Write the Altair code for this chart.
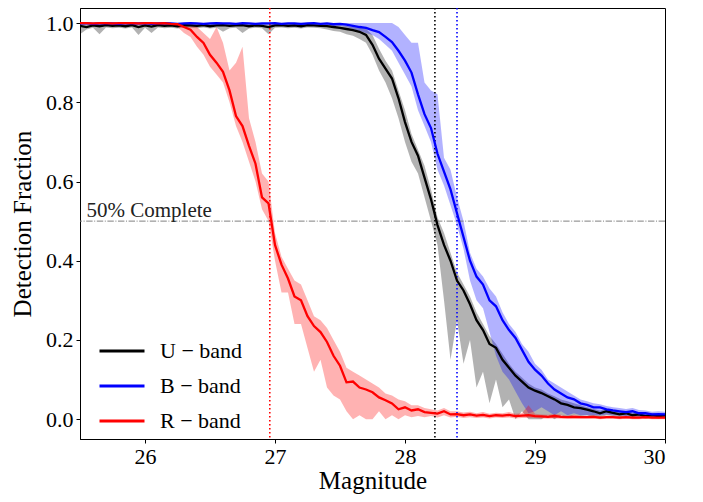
import altair as alt
import numpy as np
import pandas as pd

# Magnitude grid (bin centres)
mags = np.round(np.arange(25.5, 30.0001, 0.05), 2)

bands = ["U \u2212 band", "B \u2212 band", "R \u2212 band"]
band_colors = ["black", "blue", "red"]

# ---------------- R band ----------------
r_mean = [1.0, 1.0, 0.999, 1.0, 1.0, 0.999, 1.0, 1.0, 1.0, 0.999, 1.0, 1.0, 0.999, 1.0, 0.998, 0.997,
          0.99, 0.983, 0.965, 0.95, 0.92, 0.90, 0.877, 0.83, 0.765, 0.74, 0.69, 0.645, 0.56, 0.545,
          0.44, 0.39, 0.355, 0.31, 0.30, 0.26, 0.235, 0.22, 0.195, 0.16, 0.135, 0.093,
          0.095, 0.08, 0.075, 0.068, 0.055, 0.048, 0.04, 0.025, 0.03, 0.022, 0.025, 0.018, 0.016, 0.014,
          0.02, 0.012, 0.013, 0.01, 0.012, 0.009, 0.011, 0.008, 0.01, 0.009, 0.011, 0.008, 0.009, 0.01, 0.008,
          0.007, 0.006, 0.008, 0.006, 0.005, 0.006, 0.005, 0.005, 0.006, 0.004, 0.005, 0.005, 0.004, 0.005,
          0.004, 0.004, 0.005, 0.004, 0.004, 0.004]
r_lo = [1.0, 0.997, 0.995, 0.997, 0.998, 0.996, 0.997, 0.998, 0.997, 0.996, 0.997, 0.998, 0.996, 0.997, 0.995, 0.99,
        0.975, 0.965, 0.94, 0.92, 0.89, 0.87, 0.85, 0.80, 0.74, 0.70, 0.65, 0.60, 0.53, 0.50,
        0.40, 0.32, 0.32, 0.24, 0.24, 0.18, 0.12, 0.15, 0.08, 0.06, 0.05, 0.02,
        0.0, 0.01, 0.0, 0.0, 0.02, 0.0, 0.01, 0.0, 0.01, 0.005, 0.008, 0.005, 0.008, 0.004,
        0.01, 0.004, 0.006, 0.003, 0.005, 0.003, 0.004, 0.002, 0.004, 0.003, 0.004, 0.002, 0.003, 0.003, 0.003,
        0.002, 0.001, 0.002, 0.001, 0.001, 0.002, 0.001, 0.001, 0.002, 0.0, 0.001, 0.001, 0.0, 0.001,
        0.0, 0.0, 0.001, 0.0, 0.0, 0.0]
r_hi = [1.0] * 16 + [
        1.0, 1.0, 0.99, 0.975, 0.96, 0.99, 0.95, 0.88, 0.90, 0.94, 0.76, 0.70, 0.62, 0.60,
        0.47, 0.41, 0.38, 0.35, 0.34, 0.30, 0.26, 0.25, 0.23, 0.20, 0.17, 0.13,
        0.12, 0.11, 0.10, 0.09, 0.08, 0.065, 0.06, 0.05, 0.045, 0.035, 0.035, 0.028, 0.025, 0.022,
        0.028, 0.02, 0.02, 0.017, 0.019, 0.015, 0.018, 0.014, 0.016, 0.015, 0.018, 0.014, 0.015, 0.035, 0.014,
        0.012, 0.011, 0.013, 0.011, 0.009, 0.011, 0.009, 0.009, 0.01, 0.008, 0.009, 0.009, 0.008, 0.009,
        0.008, 0.008, 0.009, 0.008, 0.008, 0.008]

# ---------------- U band ----------------
u_mean = [0.993, 0.99, 0.994, 0.992, 0.995, 0.993, 0.994, 0.992, 0.995, 0.99, 0.994, 0.991, 0.995, 0.993,
          0.994, 0.992, 0.995, 0.994, 0.993, 0.995, 0.992, 0.994, 0.995, 0.993, 0.994, 0.995, 0.992, 0.994,
          0.993, 0.99, 0.994, 0.995, 0.993, 0.994, 0.992, 0.995, 0.994, 0.993, 0.992,
          0.99, 0.988, 0.985, 0.982, 0.978, 0.97, 0.945, 0.91, 0.885, 0.86, 0.81, 0.75, 0.70, 0.665, 0.61,
          0.555, 0.49, 0.44, 0.40, 0.35, 0.325, 0.29, 0.25, 0.225, 0.19, 0.18, 0.15, 0.13, 0.11, 0.095,
          0.08, 0.072, 0.066, 0.058, 0.05, 0.04, 0.036, 0.03, 0.028, 0.024, 0.02, 0.015, 0.02, 0.016,
          0.012, 0.015, 0.01, 0.012, 0.008, 0.01, 0.008, 0.01]
u_lo = [0.972, 0.984, 0.988, 0.972, 0.989, 0.987, 0.988, 0.986, 0.989, 0.97, 0.988, 0.975, 0.989, 0.987,
        0.988, 0.986, 0.989, 0.988, 0.987, 0.989, 0.986, 0.988, 0.978, 0.987, 0.988, 0.975, 0.986, 0.988,
        0.987, 0.972, 0.988, 0.989, 0.987, 0.988, 0.986, 0.989, 0.988, 0.987, 0.984,
        0.98, 0.978, 0.972, 0.968, 0.96, 0.95, 0.92, 0.88, 0.85, 0.81, 0.76, 0.70, 0.65, 0.62, 0.56,
        0.50, 0.44, 0.30, 0.15, 0.25, 0.14, 0.20, 0.08, 0.12, 0.04, 0.10, 0.03, 0.05, 0.0, 0.02,
        0.0, 0.0, 0.0, 0.01, 0.0, 0.01, 0.005, 0.01, 0.008, 0.01, 0.005, 0.005, 0.01, 0.008,
        0.005, 0.007, 0.003, 0.005, 0.002, 0.004, 0.002, 0.004]
u_hi = [0.998, 0.996, 0.999, 0.997, 0.999, 0.998, 0.999, 0.997, 0.999, 0.996, 0.999, 0.997, 0.999, 0.998,
        0.999, 0.997, 0.999, 0.999, 0.998, 0.999, 0.997, 0.999, 0.999, 0.998, 0.999, 0.999, 0.997, 0.999,
        0.998, 0.996, 0.999, 0.999, 0.998, 0.999, 0.997, 0.999, 0.999, 0.998, 0.997,
        0.995, 0.995, 0.993, 0.99, 0.988, 0.985, 0.97, 0.935, 0.905, 0.88, 0.83, 0.78, 0.72, 0.68, 0.64,
        0.58, 0.51, 0.47, 0.42, 0.37, 0.34, 0.31, 0.27, 0.24, 0.21, 0.19, 0.165, 0.14, 0.12, 0.105,
        0.09, 0.08, 0.075, 0.065, 0.058, 0.05, 0.045, 0.04, 0.035, 0.03, 0.026, 0.022, 0.026, 0.022,
        0.018, 0.02, 0.016, 0.018, 0.013, 0.015, 0.013, 0.015]

# ---------------- B band ----------------
b_mean = [0.999, 1.0, 0.998, 0.999, 1.0, 0.999, 0.998, 1.0, 0.999, 0.999, 1.0, 0.998, 0.999, 1.0,
          0.999, 0.998, 0.999, 1.0, 0.999, 0.998, 0.999, 1.0, 0.999, 0.999, 0.998, 1.0, 0.999, 0.998,
          0.999, 0.999, 1.0, 0.998, 0.999, 0.999, 0.998, 0.999, 1.0, 0.998, 0.999, 0.997, 0.998, 0.996,
          0.993, 0.99, 0.988, 0.982, 0.977, 0.965, 0.952, 0.93, 0.905, 0.875, 0.82, 0.77, 0.735, 0.67,
          0.625, 0.58, 0.52, 0.46, 0.40, 0.36, 0.34, 0.30, 0.285, 0.25, 0.225, 0.205, 0.175, 0.145,
          0.125, 0.11, 0.09, 0.075, 0.065, 0.055, 0.05, 0.04, 0.036, 0.03, 0.03, 0.025, 0.022, 0.02,
          0.018, 0.02, 0.015, 0.015, 0.012, 0.013, 0.012]
b_lo = [0.996, 0.997, 0.995, 0.996, 0.997, 0.996, 0.995, 0.997, 0.996, 0.996, 0.997, 0.995, 0.996, 0.997,
        0.996, 0.995, 0.996, 0.997, 0.996, 0.995, 0.996, 0.997, 0.996, 0.996, 0.995, 0.997, 0.996, 0.995,
        0.996, 0.996, 0.997, 0.995, 0.996, 0.996, 0.995, 0.996, 0.997, 0.995, 0.996, 0.993, 0.993, 0.99,
        0.985, 0.98, 0.975, 0.97, 0.96, 0.945, 0.93, 0.90, 0.87, 0.84, 0.78, 0.74, 0.70, 0.63,
        0.59, 0.54, 0.49, 0.43, 0.35, 0.30, 0.28, 0.22, 0.16, 0.12, 0.10, 0.07, 0.04, 0.015,
        0.02, 0.03, 0.02, 0.01, 0.02, 0.01, 0.015, 0.01, 0.01, 0.01, 0.01, 0.012, 0.01, 0.01,
        0.008, 0.01, 0.007, 0.007, 0.005, 0.006, 0.005]
b_hi = [1.0] * 42 + [
        1.0, 1.0, 1.0, 1.0, 1.0, 1.0, 1.0, 0.99, 0.97, 0.95, 0.95, 0.85, 0.83, 0.82,
        0.66, 0.63, 0.56, 0.50, 0.42, 0.38, 0.36, 0.33, 0.31, 0.27, 0.24, 0.22, 0.19, 0.17,
        0.14, 0.125, 0.10, 0.09, 0.08, 0.07, 0.06, 0.05, 0.045, 0.04, 0.038, 0.033, 0.03, 0.028,
        0.026, 0.028, 0.023, 0.022, 0.019, 0.02, 0.019]

# 50% completeness magnitudes
limit_mags = [28.23, 28.40, 26.96]

frames = []
for name, m, lo, hi in [(bands[0], u_mean, u_lo, u_hi),
                        (bands[1], b_mean, b_lo, b_hi),
                        (bands[2], r_mean, r_lo, r_hi)]:
    frames.append(pd.DataFrame({"mag": mags, "band": name, "frac": m, "lo": lo, "hi": hi}))
df = pd.concat(frames, ignore_index=True)

limits = pd.DataFrame({"mag": limit_mags, "band": bands, "col": band_colors})
half = pd.DataFrame({"y": [0.5]})
label_df = pd.DataFrame({"mag": [25.55], "y": [0.5], "text": ["50% Complete"]})

FONT = "Liberation Serif"
xscale = alt.Scale(domain=[25.5, 30.0], nice=False, zero=False)
yscale = alt.Scale(domain=[-0.05, 1.038], nice=False, zero=False)

x_enc = alt.X("mag:Q", scale=xscale,
              axis=alt.Axis(title="Magnitude", values=[26, 27, 28, 29, 30], format="d"))
y_axis = alt.Axis(title="Detection Fraction", values=[0, 0.2, 0.4, 0.6, 0.8, 1.0], format=".1f")

area = alt.Chart(df).mark_area(opacity=0.3, clip=True).encode(
    x=x_enc,
    y=alt.Y("lo:Q", scale=yscale, axis=y_axis),
    y2="hi:Q",
    color=alt.Color("band:N", scale=alt.Scale(domain=bands, range=band_colors), legend=None),
    detail="band:N",
)

lines = alt.Chart(df).mark_line(strokeWidth=2.3, clip=True).encode(
    x=x_enc,
    y=alt.Y("frac:Q", scale=yscale, axis=y_axis),
    color=alt.Color("band:N", scale=alt.Scale(domain=bands, range=band_colors),
                    legend=alt.Legend(title=None, orient="none", legendX=18, legendY=319,
                                      symbolType="stroke", symbolSize=2025, symbolStrokeWidth=3,
                                      labelFontSize=22, labelFont=FONT, labelOffset=14,
                                      rowPadding=-15, padding=0, labelColor="black")),
    order=alt.Order("mag:Q"),
)

vlines = alt.Chart(limits).mark_rule(strokeWidth=1.6, strokeDash=[1.5, 2.5]).encode(
    x=alt.X("mag:Q", scale=xscale),
    color=alt.Color("col:N", scale=None),
)

hline = alt.Chart(half).mark_rule(strokeWidth=1, color="#808080", strokeDash=[6.4, 1.6, 1, 1.6]).encode(
    y=alt.Y("y:Q", scale=yscale),
)

label = alt.Chart(label_df).mark_text(align="left", baseline="alphabetic", dy=-4,
                                       fontSize=21, font=FONT, color="#222222").encode(
    x=alt.X("mag:Q", scale=xscale),
    y=alt.Y("y:Q", scale=yscale),
    text="text:N",
)

chart = alt.layer(area, hline, vlines, lines, label).resolve_scale(color="independent").properties(
    width=585, height=431,
    autosize=alt.AutoSizeParams(type="none"),
    padding={"left": 72, "top": 0, "right": 30, "bottom": 55},
).configure_view(
    stroke="black", strokeWidth=1
).configure_axis(
    grid=False, domainColor="black", tickColor="black", tickSize=4, domainWidth=1,
    labelFont=FONT, titleFont=FONT, labelFontSize=22, titleFontSize=25,
    labelColor="black", titleColor="black", titleFontWeight="normal",
).configure_axisX(
    labelPadding=3, titlePadding=1
).configure_axisY(
    labelPadding=3, titlePadding=10
)

chart.save("out.html", embed_options={"renderer": "svg", "actions": False})
